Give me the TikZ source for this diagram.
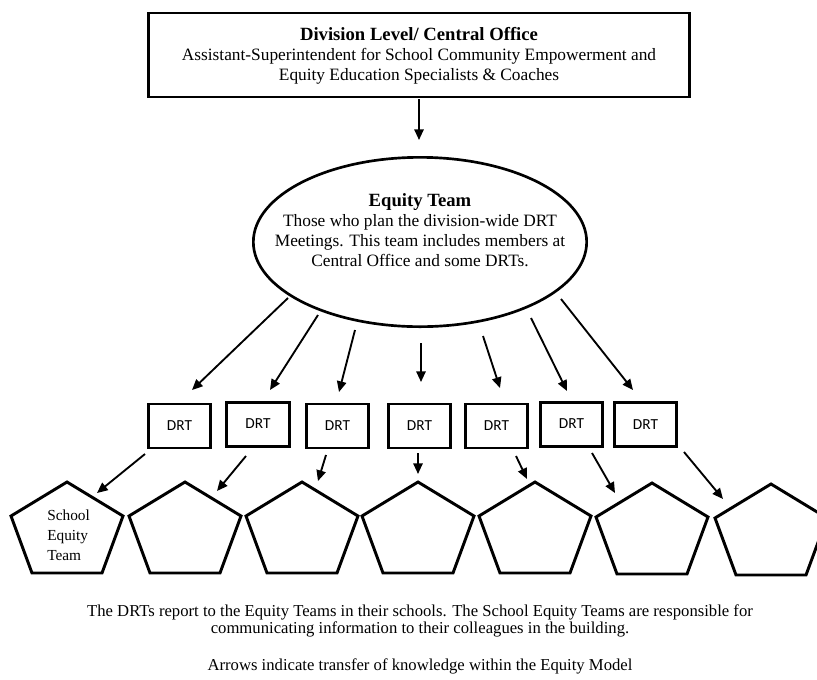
\documentclass[tikz,border=0pt]{standalone}
\usepackage{fontspec}
\setmainfont{Liberation Serif}
\newfontfamily\drtfont{Carlito}
\usetikzlibrary{arrows.meta,shapes.geometric}
\begin{document}
\begin{tikzpicture}[x=0.75pt,y=-0.75pt,
  boxline/.style={draw, line width=2.2pt},
  topbox/.style={boxline, minimum width=406pt, minimum height=63pt, inner sep=0pt},
  ellbox/.style={ellipse, draw, line width=2pt, minimum width=250pt, minimum height=127pt, inner sep=0pt},
  drtbox/.style={boxline, minimum width=47pt, minimum height=33pt, inner sep=0pt, font=\drtfont\fontsize{11.5}{13}\selectfont},
  pentline/.style={line width=2.2pt, line join=miter},
  conn/.style={line width=1.4pt, -{Triangle[length=8pt,width=7pt]}},
  bodytext/.style={align=center, inner sep=0pt, font=\fontsize{13}{15}\selectfont},
  foot/.style={align=center, inner sep=0pt, font=\fontsize{12.5}{13}\selectfont}
]
\useasboundingbox (0,0) rectangle (817,679);
\clip (0,0) rectangle (817,679);

% top box
\node[topbox] (top) at (419,55) {};
\node[bodytext] (toptxt) at (419,56) {{\bfseries\fontsize{14}{15}\selectfont Division Level/ Central Office}\\Assistant-Superintendent for School Community Empowerment and\\Equity Education Specialists \& Coaches};

% ellipse
\node[ellbox] (eq) at (420,242) {};
\node[bodytext] (eqtxt) at (420,230) {{\bfseries\fontsize{14}{15}\selectfont Equity Team}\\Those who plan the division-wide DRT\\Meetings. This team includes members at\\Central Office and some DRTs.};

\coordinate (ta) at (419,99);
\coordinate (tb) at (419,140);
\draw[conn] (ta) -- (tb);

% DRT boxes
\node[drtbox] (d1) at (179.5,426) {DRT};
\node[drtbox] (d2) at (258,424.5) {\raisebox{2pt}{DRT}};
\node[drtbox] (d3) at (337.5,426) {DRT};
\node[drtbox] (d4) at (419.5,426) {DRT};
\node[drtbox] (d5) at (496.5,426) {DRT};
\node[drtbox] (d6) at (571.5,424.5) {\raisebox{2pt}{DRT}};
\node[drtbox] (d7) at (645.5,424.5) {DRT};

% ellipse -> DRT arrows
\foreach \i/\sx/\sy/\ex/\ey in {1/288/298/192/390, 2/318/315/270/390, 3/355/330/339/392, 4/421/343/421/382, 5/483/336/500/388, 6/531/318/567/391, 7/561/299/633/390}{
  \coordinate (es\i) at (\sx,\sy);
  \coordinate (ee\i) at (\ex,\ey);
  \draw[conn] (es\i) -- (ee\i);
}

% pentagons
\foreach \x/\dy [count=\i] in {67/0,185/0,302/0,418/0,535/0,652/1,771/2}{
  \coordinate (p\i) at (\x,482+\dy);
  \draw[pentline] (p\i) -- ++(56,34) -- ++(-21,57) -- ++(-70,0) -- ++(-21,-57) -- cycle;
}
\node[align=left, anchor=west, inner sep=0pt, font=\fontsize{11.5}{15}\selectfont] (set) at (47,535) {School\\Equity\\Team};

% DRT -> pentagon arrows
\foreach \i/\sx/\sy/\ex/\ey in {1/145/454/97/493, 2/246/456/217/491, 3/326/455/318/481, 4/418/453/418/474, 5/516/456/527/479, 6/592/453/615/493, 7/684/452/723/499}{
  \coordinate (ds\i) at (\sx,\sy);
  \coordinate (de\i) at (\ex,\ey);
  \draw[conn] (ds\i) -- (de\i);
}

% footer
\node[foot] (f1) at (420,621) {The DRTs report to the Equity Teams in their schools. The School Equity Teams are responsible for\\communicating information to their colleagues in the building.};
\node[foot] (f2) at (420,666) {Arrows indicate transfer of knowledge within the Equity Model};
\end{tikzpicture}
\end{document}
